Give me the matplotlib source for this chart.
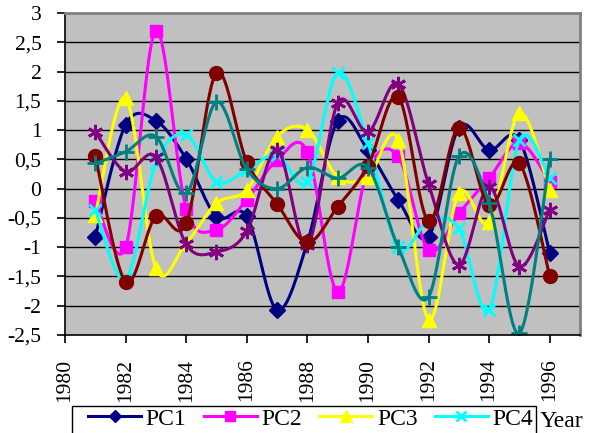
import numpy as np
import matplotlib
matplotlib.use("Agg")
import matplotlib.pyplot as plt
from matplotlib.lines import Line2D
from matplotlib.patches import Rectangle
from matplotlib.ticker import FuncFormatter, MultipleLocator

plt.rcParams['font.family'] = ['Liberation Serif', 'DejaVu Serif']

years = list(range(1981, 1997))
pc1 = [-0.82, 1.09, 1.16, 0.51, -0.48, -0.47, -2.07, -0.92, 1.16, 0.66, -0.19, -0.82, 1.04, 0.66, 0.83, -1.10]
pc2 = [-0.21, -1.00, 2.70, -0.34, -0.70, -0.19, 0.49, 0.63, -1.76, 0.32, 0.55, -1.05, -0.42, 0.18, 0.78, 0.12]
pc3 = [-0.45, 1.55, -1.36, -0.93, -0.25, -0.02, 0.89, 1.01, 0.20, 0.20, 0.83, -2.24, -0.08, -0.57, 1.29, -0.02]
pc4 = [-0.36, -1.55, 0.44, 0.92, 0.12, 0.32, 0.58, 0.12, 1.98, 0.78, -1.00, -0.55, -0.68, -2.07, 0.83, 0.18]
pc5 = [0.97, 0.29, 0.54, -0.95, -1.08, -0.73, 0.66, -0.97, 1.46, 0.97, 1.79, 0.08, -1.30, 0.03, -1.33, -0.36]
pc6 = [0.56, -1.59, -0.47, -0.59, 1.98, 0.46, -0.26, -0.92, -0.31, 0.39, 1.57, -0.55, 1.04, -0.28, 0.43, -1.49]
pc7 = [0.43, 0.63, 0.89, -0.08, 1.48, 0.33, 0.00, 0.36, 0.18, 0.36, -1.00, -1.85, 0.55, -0.25, -2.47, 0.51]

names = ['PC1', 'PC2', 'PC3', 'PC4', 'PC5', 'PC6', 'PC7']
series = [pc1, pc2, pc3, pc4, pc5, pc6, pc7]
colors = ['#000080', '#FF00FF', '#FFFF00', '#00FFFF', '#800080', '#800000', '#008080']
markers = ['D', 's', '^', 'x', (6, 2, 0), 'o', '+']
msizes = [8, 9, 10, 9, 11, 10, 11]

x_ticks = list(range(1980, 1997, 2))
x_min, x_max = 1980, 1997
y_min, y_max = -2.5, 3.0


def smooth(xs, ys, n=30):
    """Catmull-Rom style cubic Bezier through every point."""
    xs = np.asarray(xs, float)
    ys = np.asarray(ys, float)
    px = np.concatenate([[xs[0]], xs, [xs[-1]]])
    py = np.concatenate([[ys[0]], ys, [ys[-1]]])
    outx, outy = [], []
    t = np.linspace(0, 1, n)
    for i in range(1, len(px) - 2):
        p0 = np.array([px[i], py[i]])
        p3 = np.array([px[i + 1], py[i + 1]])
        c1 = p0 + (p3 - np.array([px[i - 1], py[i - 1]])) / 6.0
        c2 = p3 - (np.array([px[i + 2], py[i + 2]]) - p0) / 6.0
        b = ((1 - t) ** 3)[:, None] * p0 + (3 * (1 - t) ** 2 * t)[:, None] * c1 \
            + (3 * (1 - t) * t ** 2)[:, None] * c2 + (t ** 3)[:, None] * p3
        outx.extend(b[:, 0])
        outy.extend(b[:, 1])
    return outx, outy


fig = plt.figure(figsize=(5.89, 4.33), dpi=100)
ax = fig.add_axes([65 / 589, 1 - 335 / 433, (580 - 65) / 589, (335 - 13) / 433])
ax.set_facecolor('#C0C0C0')

handles = []
for name, ys, c, m, ms in zip(names, series, colors, markers, msizes):
    sx, sy = smooth(years, ys)
    ax.plot(sx, sy, color=c, lw=2.2, solid_capstyle='round')
    mew = 2.0 if m in ('x', '+') or isinstance(m, tuple) else 1.0
    ax.plot(years, ys, linestyle='none', marker=m, ms=ms, color=c,
            markeredgecolor=c, markeredgewidth=mew)
    handles.append(Line2D([], [], color=c, lw=2.2, marker=m, ms=ms * 0.8,
                          markeredgecolor=c, markeredgewidth=mew, label=name))

ax.set_xlim(x_min, x_max)
ax.set_ylim(y_min, y_max)
ax.set_xticks(x_ticks)
ax.set_xticklabels([str(v) for v in x_ticks], rotation=90)
ax.yaxis.set_major_locator(MultipleLocator(0.5))
ax.yaxis.set_major_formatter(FuncFormatter(lambda v, p: ('%g' % v).replace('.', ',')))

for v in np.arange(-2.0, 3.0, 0.5):
    ax.axhline(v, color='black', lw=1.0, zorder=0.5)

ax.tick_params(axis='both', direction='out', length=6, width=1.2, color='black',
               labelsize=15.5, pad=11)
for side in ('top', 'right'):
    ax.spines[side].set_color('#808080')
    ax.spines[side].set_linewidth(2)
for side in ('left', 'bottom'):
    ax.spines[side].set_color('black')
    ax.spines[side].set_linewidth(1.2)

# legend box: only its first row (PC1..PC4) fits above the lower edge
leg = fig.legend(handles[:4], names[:4],
                 ncol=4, loc='upper left', bbox_to_anchor=(88 / 589, 1 - 408 / 433),
                 frameon=False, fontsize=17, borderpad=0, borderaxespad=0,
                 handlelength=2.25, handletextpad=0.2, columnspacing=0.72)
fig.patches.append(Rectangle((72 / 589, -0.2), (536 - 72) / 589, 0.2 + 1 - 406 / 433,
                             transform=fig.transFigure, facecolor='white',
                             edgecolor='black', lw=1.0, zorder=-1))
fig.text(540 / 589, 1 - 427 / 433, 'Year', fontsize=17, ha='left', va='baseline')

fig.savefig('out.png', dpi=100)
